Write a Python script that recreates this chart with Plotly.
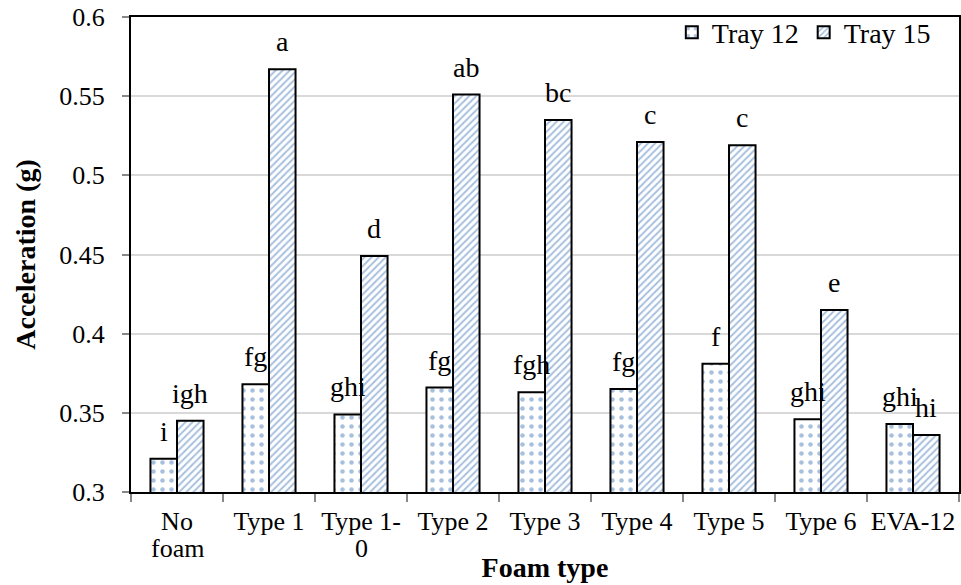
import plotly.graph_objects as go

categories = ["No foam", "Type 1", "Type 1-0", "Type 2", "Type 3", "Type 4", "Type 5", "Type 6", "EVA-12"]
tick_line1 = ["No", "Type 1", "Type 1-", "Type 2", "Type 3", "Type 4", "Type 5", "Type 6", "EVA-12"]
tick_line2 = ["foam", "", "0", "", "", "", "", "", ""]
tray12 = [0.321, 0.368, 0.349, 0.366, 0.363, 0.365, 0.381, 0.346, 0.343]
tray15 = [0.345, 0.567, 0.449, 0.551, 0.535, 0.521, 0.519, 0.415, 0.336]
labels12 = ["i", "fg", "ghi", "fg", "fgh", "fg", "f", "ghi", "ghi"]
labels15 = ["igh", "a", "d", "ab", "bc", "c", "c", "e", "hi"]
y_ticks = [0.3, 0.35, 0.4, 0.45, 0.5, 0.55, 0.6]

FONT = "Liberation Serif"
BLUE = "#4f81bd"
TICK_SIZE = 26
LABEL_SIZE = 28
TITLE_SIZE = 28

fig = go.Figure()
fig.add_trace(go.Bar(
    name="Tray 12", x=categories, y=tray12,
    marker=dict(color="white", line=dict(color="black", width=2),
                pattern=dict(shape=".", fgcolor=BLUE, bgcolor="white", size=9, solidity=0.2)),
))
fig.add_trace(go.Bar(
    name="Tray 15", x=categories, y=tray15,
    marker=dict(color="white", line=dict(color="black", width=2),
                pattern=dict(shape="/", fgcolor=BLUE, bgcolor="white", size=5, solidity=0.4)),
))

annotations = []
offset = 0.144  # half bar offset in category units
for i, (v, t) in enumerate(zip(tray12, labels12)):
    annotations.append(dict(x=i - offset, y=v, xref="x", yref="y", text=t, showarrow=False,
                            yanchor="bottom", yshift=10, font=dict(family=FONT, size=LABEL_SIZE, color="black")))
for i, (v, t) in enumerate(zip(tray15, labels15)):
    annotations.append(dict(x=i + offset, y=v, xref="x", yref="y", text=t, showarrow=False,
                            yanchor="bottom", yshift=10, font=dict(family=FONT, size=LABEL_SIZE, color="black")))
# second line of category labels
for i, t in enumerate(tick_line2):
    if t:
        annotations.append(dict(x=i, y=0, xref="x", yref="paper", text=t, showarrow=False,
                                yanchor="middle", yshift=-56, font=dict(family=FONT, size=TICK_SIZE, color="black")))

fig.update_layout(
    width=961, height=585,
    margin=dict(l=131, r=2, t=17, b=93),
    paper_bgcolor="white", plot_bgcolor="white",
    barmode="group", bargap=0.423, bargroupgap=0,
    font=dict(family=FONT, size=TICK_SIZE, color="black"),
    annotations=annotations,
    showlegend=True,
    legend=dict(orientation="h", x=0.972, y=1.02, xanchor="right", yanchor="top",
                font=dict(family=FONT, size=28), bgcolor="rgba(0,0,0,0)",
                itemwidth=30),
    xaxis=dict(
        type="category", range=[-0.5, 8.5],
        tickvals=categories, ticktext=tick_line1, tickangle=0,
        showline=True, linecolor="black", linewidth=2, mirror=True,
        ticks="outside", tickcolor="#888888", ticklen=8, tickwidth=2,
        ticklabelstandoff=5,
        tickson="boundaries", showgrid=False, automargin=False,
        tickfont=dict(family=FONT, size=TICK_SIZE),
        title=dict(text="<b>Foam type</b>", font=dict(family=FONT, size=TITLE_SIZE), standoff=22),
    ),
    yaxis=dict(
        range=[0.3, 0.6], tickvals=y_ticks, ticktext=[str(v) for v in y_ticks],
        showline=True, linecolor="black", linewidth=2, mirror=True,
        ticks="outside", tickcolor="#888888", ticklen=7, tickwidth=2,
        ticklabelstandoff=12, automargin=False,
        showgrid=True, gridcolor="#d9d9d9", gridwidth=2,
        tickfont=dict(family=FONT, size=TICK_SIZE),
        title=dict(text="<b>Acceleration (g)</b>", font=dict(family=FONT, size=TITLE_SIZE), standoff=15),
        zeroline=False,
    ),
)

fig.write_html("out.html", config={"displayModeBar": False},
               post_script="document.body.style.margin='0';")
